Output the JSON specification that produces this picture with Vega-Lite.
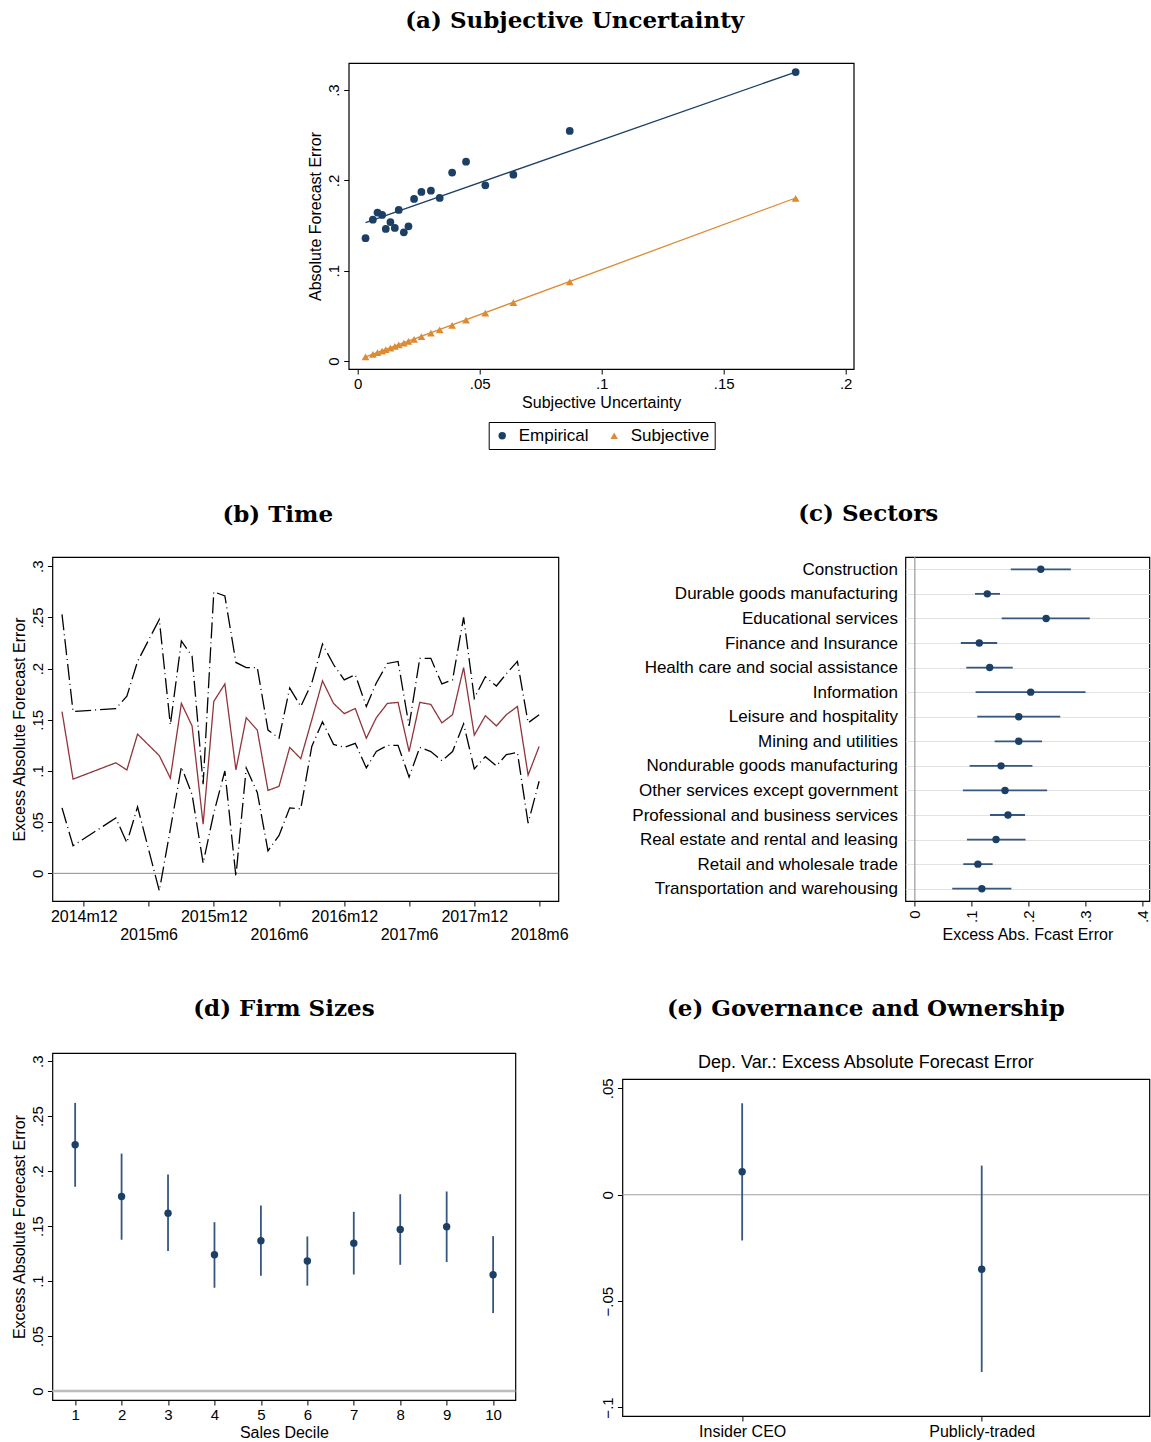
{
  "$schema": "https://vega.github.io/schema/vega-lite/v6.json",
  "background": "white",
  "padding": {"left": 10, "top": 9, "right": 0, "bottom": 0},
  "config": {
    "font": "Liberation Sans",
    "view": {"stroke": "black", "strokeWidth": 1.2},
    "axis": {
      "domain": false,
      "grid": false,
      "labelFont": "Liberation Sans",
      "labelFontSize": 15,
      "labelColor": "black",
      "titleFont": "Liberation Sans",
      "titleFontSize": 16,
      "titleFontWeight": "normal",
      "titleColor": "black",
      "tickColor": "black",
      "tickSize": 5
    },
    "title": {
      "font": "DejaVu Serif",
      "fontSize": 23,
      "fontWeight": "bold",
      "color": "black",
      "anchor": "middle"
    }
  },
  "resolve": {"scale": {"color": "independent", "shape": "independent", "strokeDash": "independent"}},
  "spacing": 51,
  "center": true,
  "vconcat": [
    {
      "title": {"text": "(a)  Subjective Uncertainty", "offset": 30, "frame": "bounds", "dx": -6},
      "width": 505,
      "height": 306,
      "encoding": {
        "x": {
          "field": "su",
          "type": "quantitative",
          "scale": {"domain": [-0.0037, 0.2033], "nice": false, "zero": false},
          "axis": {
            "title": "Subjective Uncertainty",
            "values": [0, 0.05, 0.1, 0.15, 0.2],
            "labelExpr": "datum.value == 0 ? '0' : replace(format(datum.value, '.2~f'), '0.', '.')",
            "titlePadding": 3
          }
        },
        "y": {
          "field": "afe",
          "type": "quantitative",
          "scale": {"domain": [-0.0089, 0.33], "nice": false, "zero": false},
          "axis": {
            "title": "Absolute Forecast Error",
            "values": [0, 0.1, 0.2, 0.3],
            "labelExpr": "datum.value == 0 ? '0' : replace(format(datum.value, '.2~f'), '0.', '.')",
            "labelAngle": -90,
            "labelAlign": "center",
            "labelBaseline": "bottom",
            "titlePadding": 3
          }
        }
      },
      "layer": [
        {
          "data": {
            "values": [
              {"series": "Empirical", "su": 0.0032, "afe": 0.1532},
              {"series": "Empirical", "su": 0.1795, "afe": 0.3200},
              {"series": "Subjective", "su": 0.0032, "afe": 0.0045},
              {"series": "Subjective", "su": 0.1795, "afe": 0.1805}
            ]
          },
          "transform": [{"filter": "datum.series == 'Empirical'"}],
          "mark": {"type": "line", "strokeWidth": 1.3, "color": "#1c3f66"},
          "encoding": {}
        },
        {
          "data": {
            "values": [
              {"series": "Empirical", "su": 0.0032, "afe": 0.1532},
              {"series": "Empirical", "su": 0.1795, "afe": 0.3200},
              {"series": "Subjective", "su": 0.0032, "afe": 0.0045},
              {"series": "Subjective", "su": 0.1795, "afe": 0.1805}
            ]
          },
          "transform": [{"filter": "datum.series == 'Subjective'"}],
          "mark": {"type": "line", "strokeWidth": 1.3, "color": "#dd8a33"},
          "encoding": {}
        },
        {
          "data": {
            "values": [
              {"series": "Empirical", "su": 0.0032, "afe": 0.1360},
              {"series": "Empirical", "su": 0.0062, "afe": 0.1565},
              {"series": "Empirical", "su": 0.0081, "afe": 0.1643},
              {"series": "Empirical", "su": 0.0100, "afe": 0.1617},
              {"series": "Empirical", "su": 0.0115, "afe": 0.1462},
              {"series": "Empirical", "su": 0.0134, "afe": 0.1539},
              {"series": "Empirical", "su": 0.0152, "afe": 0.1473},
              {"series": "Empirical", "su": 0.0168, "afe": 0.1672},
              {"series": "Empirical", "su": 0.0189, "afe": 0.1425},
              {"series": "Empirical", "su": 0.0208, "afe": 0.1491},
              {"series": "Empirical", "su": 0.0231, "afe": 0.1794},
              {"series": "Empirical", "su": 0.0261, "afe": 0.1872},
              {"series": "Empirical", "su": 0.0300, "afe": 0.1886},
              {"series": "Empirical", "su": 0.0336, "afe": 0.1805},
              {"series": "Empirical", "su": 0.0387, "afe": 0.2086},
              {"series": "Empirical", "su": 0.0444, "afe": 0.2207},
              {"series": "Empirical", "su": 0.0523, "afe": 0.1945},
              {"series": "Empirical", "su": 0.0638, "afe": 0.2063},
              {"series": "Empirical", "su": 0.0869, "afe": 0.2547},
              {"series": "Empirical", "su": 0.1795, "afe": 0.3200},
              {"series": "Subjective", "su": 0.0032, "afe": 0.0045},
              {"series": "Subjective", "su": 0.0062, "afe": 0.0072},
              {"series": "Subjective", "su": 0.0081, "afe": 0.0092},
              {"series": "Subjective", "su": 0.0100, "afe": 0.0110},
              {"series": "Subjective", "su": 0.0115, "afe": 0.0125},
              {"series": "Subjective", "su": 0.0134, "afe": 0.0143},
              {"series": "Subjective", "su": 0.0152, "afe": 0.0162},
              {"series": "Subjective", "su": 0.0168, "afe": 0.0178},
              {"series": "Subjective", "su": 0.0189, "afe": 0.0198},
              {"series": "Subjective", "su": 0.0208, "afe": 0.0217},
              {"series": "Subjective", "su": 0.0231, "afe": 0.0240},
              {"series": "Subjective", "su": 0.0261, "afe": 0.0270},
              {"series": "Subjective", "su": 0.0300, "afe": 0.0308},
              {"series": "Subjective", "su": 0.0336, "afe": 0.0344},
              {"series": "Subjective", "su": 0.0387, "afe": 0.0395},
              {"series": "Subjective", "su": 0.0444, "afe": 0.0452},
              {"series": "Subjective", "su": 0.0523, "afe": 0.0530},
              {"series": "Subjective", "su": 0.0638, "afe": 0.0645},
              {"series": "Subjective", "su": 0.0869, "afe": 0.0876},
              {"series": "Subjective", "su": 0.1795, "afe": 0.1800}
            ]
          },
          "mark": {"type": "point", "filled": true, "opacity": 1, "size": 60},
          "encoding": {
            "color": {
              "field": "series",
              "type": "nominal",
              "scale": {"domain": ["Empirical", "Subjective"], "range": ["#1c3f66", "#dd8a33"]},
              "legend": {
                "title": null,
                "orient": "none",
                "legendX": 140,
                "legendY": 359,
                "direction": "horizontal",
                "strokeColor": "black",
                "padding": 5,
                "labelFontSize": 17,
                "labelColor": "black",
                "symbolSize": 55,
                "columnPadding": 17,
                "labelOffset": 8
              }
            },
            "shape": {
              "field": "series",
              "type": "nominal",
              "scale": {"domain": ["Empirical", "Subjective"], "range": ["circle", "triangle-up"]},
              "legend": {
                "title": null,
                "orient": "none",
                "legendX": 140,
                "legendY": 359,
                "direction": "horizontal",
                "strokeColor": "black",
                "padding": 5,
                "labelFontSize": 17,
                "labelColor": "black",
                "symbolSize": 55,
                "columnPadding": 17,
                "labelOffset": 8
              }
            }
          }
        }
      ]
    },
    {
      "columns": 2,
      "align": "none",
      "spacing": {"row": 53, "column": 24},
      "concat": [
        {
          "title": {"text": "(b) Time", "offset": 30, "frame": "bounds", "dx": -12},
          "width": 506,
          "height": 344,
          "layer": [
            {
              "data": {"values": [{"zero": 0}]},
              "mark": {"type": "rule", "color": "#8c8c8c", "strokeWidth": 1},
              "encoding": {"y": {"datum": 0, "type": "quantitative"}}
            },
            {
              "data": {
                "values": [
                  {"month": "2014-10", "estimate": 0.158, "ci_low": 0.064, "ci_high": 0.253},
                  {"month": "2014-11", "estimate": 0.092, "ci_low": 0.027, "ci_high": 0.158},
                  {"month": "2015-03", "estimate": 0.108, "ci_low": 0.054, "ci_high": 0.161},
                  {"month": "2015-04", "estimate": 0.101, "ci_low": 0.030, "ci_high": 0.173},
                  {"month": "2015-05", "estimate": 0.136, "ci_low": 0.065, "ci_high": 0.207},
                  {"month": "2015-07", "estimate": 0.115, "ci_low": -0.017, "ci_high": 0.248},
                  {"month": "2015-08", "estimate": 0.093, "ci_low": 0.043, "ci_high": 0.145},
                  {"month": "2015-09", "estimate": 0.166, "ci_low": 0.104, "ci_high": 0.227},
                  {"month": "2015-10", "estimate": 0.144, "ci_low": 0.077, "ci_high": 0.212},
                  {"month": "2015-11", "estimate": 0.048, "ci_low": 0.010, "ci_high": 0.087},
                  {"month": "2015-12", "estimate": 0.168, "ci_low": 0.059, "ci_high": 0.275},
                  {"month": "2016-01", "estimate": 0.185, "ci_low": 0.100, "ci_high": 0.271},
                  {"month": "2016-02", "estimate": 0.101, "ci_low": -0.003, "ci_high": 0.206},
                  {"month": "2016-03", "estimate": 0.152, "ci_low": 0.103, "ci_high": 0.201},
                  {"month": "2016-04", "estimate": 0.140, "ci_low": 0.079, "ci_high": 0.201},
                  {"month": "2016-05", "estimate": 0.081, "ci_low": 0.022, "ci_high": 0.140},
                  {"month": "2016-06", "estimate": 0.085, "ci_low": 0.037, "ci_high": 0.132},
                  {"month": "2016-07", "estimate": 0.123, "ci_low": 0.064, "ci_high": 0.181},
                  {"month": "2016-08", "estimate": 0.112, "ci_low": 0.063, "ci_high": 0.163},
                  {"month": "2016-09", "estimate": 0.150, "ci_low": 0.124, "ci_high": 0.186},
                  {"month": "2016-10", "estimate": 0.188, "ci_low": 0.148, "ci_high": 0.224},
                  {"month": "2016-11", "estimate": 0.166, "ci_low": 0.126, "ci_high": 0.204},
                  {"month": "2016-12", "estimate": 0.156, "ci_low": 0.123, "ci_high": 0.189},
                  {"month": "2017-01", "estimate": 0.161, "ci_low": 0.127, "ci_high": 0.194},
                  {"month": "2017-02", "estimate": 0.132, "ci_low": 0.103, "ci_high": 0.163},
                  {"month": "2017-03", "estimate": 0.152, "ci_low": 0.119, "ci_high": 0.186},
                  {"month": "2017-04", "estimate": 0.166, "ci_low": 0.125, "ci_high": 0.205},
                  {"month": "2017-05", "estimate": 0.167, "ci_low": 0.125, "ci_high": 0.207},
                  {"month": "2017-06", "estimate": 0.119, "ci_low": 0.094, "ci_high": 0.144},
                  {"month": "2017-07", "estimate": 0.167, "ci_low": 0.123, "ci_high": 0.210},
                  {"month": "2017-08", "estimate": 0.165, "ci_low": 0.119, "ci_high": 0.210},
                  {"month": "2017-09", "estimate": 0.147, "ci_low": 0.110, "ci_high": 0.185},
                  {"month": "2017-10", "estimate": 0.155, "ci_low": 0.119, "ci_high": 0.189},
                  {"month": "2017-11", "estimate": 0.201, "ci_low": 0.146, "ci_high": 0.250},
                  {"month": "2017-12", "estimate": 0.135, "ci_low": 0.102, "ci_high": 0.171},
                  {"month": "2018-01", "estimate": 0.154, "ci_low": 0.114, "ci_high": 0.192},
                  {"month": "2018-02", "estimate": 0.144, "ci_low": 0.105, "ci_high": 0.183},
                  {"month": "2018-03", "estimate": 0.155, "ci_low": 0.116, "ci_high": 0.195},
                  {"month": "2018-04", "estimate": 0.163, "ci_low": 0.118, "ci_high": 0.207},
                  {"month": "2018-05", "estimate": 0.096, "ci_low": 0.049, "ci_high": 0.147},
                  {"month": "2018-06", "estimate": 0.124, "ci_low": 0.090, "ci_high": 0.155}
                ],
                "format": {"parse": {"month": "date:'%Y-%m'"}}
              },
              "transform": [{"fold": ["ci_high", "estimate", "ci_low"], "as": ["series", "value"]}],
              "mark": {"type": "line", "strokeWidth": 1.3},
              "encoding": {
                "x": {
                  "field": "month",
                  "type": "temporal",
                  "scale": {"domain": [{"year": 2014, "month": 9, "date": 4}, {"year": 2018, "month": 7, "date": 25}], "nice": false},
                  "axis": {
                    "title": null,
                    "values": [
                      {"year": 2014, "month": 12, "date": 1},
                      {"year": 2015, "month": 6, "date": 1},
                      {"year": 2015, "month": 12, "date": 1},
                      {"year": 2016, "month": 6, "date": 1},
                      {"year": 2016, "month": 12, "date": 1},
                      {"year": 2017, "month": 6, "date": 1},
                      {"year": 2017, "month": 12, "date": 1},
                      {"year": 2018, "month": 6, "date": 1}
                    ],
                    "labelExpr": "month(datum.value) == 5 ? ['', timeFormat(datum.value, '%Ym%-m')] : timeFormat(datum.value, '%Ym%-m')",
                    "labelFontSize": 16,
                    "labelOverlap": false,
                    "labelPadding": 2,
                    "labelBaseline": "top",
                    "labelLineHeight": 18
                  }
                },
                "y": {
                  "field": "value",
                  "type": "quantitative",
                  "scale": {"domain": [-0.027, 0.309], "nice": false, "zero": false},
                  "axis": {
                    "title": "Excess Absolute Forecast Error",
                    "values": [0, 0.05, 0.1, 0.15, 0.2, 0.25, 0.3],
                    "labelExpr": "datum.value == 0 ? '0' : replace(format(datum.value, '.2~f'), '0.', '.')",
                    "labelAngle": -90,
                    "labelAlign": "center",
                    "labelBaseline": "bottom",
                    "titlePadding": 3
                  }
                },
                "color": {
                  "field": "series",
                  "type": "nominal",
                  "scale": {"domain": ["estimate", "ci_low", "ci_high"], "range": ["#90353b", "black", "black"]},
                  "legend": null
                },
                "strokeDash": {
                  "field": "series",
                  "type": "nominal",
                  "scale": {"domain": ["estimate", "ci_low", "ci_high"], "range": [[1, 0], [16, 4, 1, 4], [16, 4, 1, 4]]},
                  "legend": null
                }
              }
            }
          ]
        },
        {
          "title": {"text": "(c) Sectors", "offset": 30, "frame": "bounds", "dx": -4},
          "width": 244,
          "height": 344,
          "data": {
            "values": [
              {"sector": "Construction", "estimate": 0.2218, "ci_low": 0.169, "ci_high": 0.2747},
              {"sector": "Durable goods manufacturing", "estimate": 0.1276, "ci_low": 0.106, "ci_high": 0.150},
              {"sector": "Educational services", "estimate": 0.2312, "ci_low": 0.153, "ci_high": 0.308},
              {"sector": "Finance and Insurance", "estimate": 0.1135, "ci_low": 0.081, "ci_high": 0.145},
              {"sector": "Health care and social assistance", "estimate": 0.1318, "ci_low": 0.0906, "ci_high": 0.1724},
              {"sector": "Information", "estimate": 0.204, "ci_low": 0.107, "ci_high": 0.3006},
              {"sector": "Leisure and hospitality", "estimate": 0.183, "ci_low": 0.110, "ci_high": 0.256},
              {"sector": "Mining and utilities", "estimate": 0.183, "ci_low": 0.1406, "ci_high": 0.224},
              {"sector": "Nondurable goods manufacturing", "estimate": 0.1518, "ci_low": 0.0965, "ci_high": 0.207},
              {"sector": "Other services except government", "estimate": 0.1588, "ci_low": 0.0847, "ci_high": 0.233},
              {"sector": "Professional and business services", "estimate": 0.164, "ci_low": 0.1324, "ci_high": 0.194},
              {"sector": "Real estate and rental and leasing", "estimate": 0.143, "ci_low": 0.0918, "ci_high": 0.195},
              {"sector": "Retail and wholesale trade", "estimate": 0.111, "ci_low": 0.0853, "ci_high": 0.137},
              {"sector": "Transportation and warehousing", "estimate": 0.118, "ci_low": 0.0659, "ci_high": 0.170}
            ]
          },
          "layer": [
            {
              "data": {"values": [{"zero": 0}]},
              "mark": {"type": "rule", "color": "#9a9a9a", "strokeWidth": 1.2},
              "encoding": {"x": {"datum": 0, "type": "quantitative"}}
            },
            {
              "mark": {"type": "rule", "color": "#36577f", "strokeWidth": 1.8},
              "encoding": {
                "x": {
                  "field": "ci_low",
                  "type": "quantitative",
                  "scale": {"domain": [-0.0166, 0.413], "nice": false, "zero": false},
                  "axis": {
                    "title": "Excess Abs. Fcast Error",
                    "values": [0, 0.1, 0.2, 0.3, 0.4],
                    "labelExpr": "datum.value == 0 ? '0' : replace(format(datum.value, '.2~f'), '0.', '.')",
                    "labelAngle": -90,
                    "labelAlign": "right",
                    "labelBaseline": "middle",
                    "labelPadding": 4,
                    "titlePadding": 4
                  }
                },
                "x2": {"field": "ci_high"},
                "y": {
                  "field": "sector",
                  "type": "nominal",
                  "sort": null,
                  "scale": {"type": "point", "padding": 0.5},
                  "axis": {
                    "title": null,
                    "ticks": false,
                    "labelPadding": 8,
                    "labelFontSize": 17,
                    "labelLimit": 400,
                    "minExtent": 311,
                    "grid": true,
                    "gridColor": "#e2e2e2"
                  }
                }
              }
            },
            {
              "mark": {"type": "point", "filled": true, "opacity": 1, "size": 55, "color": "#1c3f66"},
              "encoding": {
                "x": {"field": "estimate", "type": "quantitative", "title": "Excess Abs. Fcast Error"},
                "y": {"field": "sector", "type": "nominal", "sort": null}
              }
            }
          ]
        },
        {
          "title": {"text": "(d) Firm Sizes", "offset": 32},
          "width": 463,
          "height": 347,
          "data": {
            "values": [
              {"decile": 1, "estimate": 0.224, "ci_low": 0.1858, "ci_high": 0.2621},
              {"decile": 2, "estimate": 0.177, "ci_low": 0.1376, "ci_high": 0.216},
              {"decile": 3, "estimate": 0.1618, "ci_low": 0.1273, "ci_high": 0.197},
              {"decile": 4, "estimate": 0.1239, "ci_low": 0.0939, "ci_high": 0.1536},
              {"decile": 5, "estimate": 0.1367, "ci_low": 0.1048, "ci_high": 0.1688},
              {"decile": 6, "estimate": 0.1182, "ci_low": 0.0958, "ci_high": 0.1406},
              {"decile": 7, "estimate": 0.1345, "ci_low": 0.106, "ci_high": 0.163},
              {"decile": 8, "estimate": 0.147, "ci_low": 0.1148, "ci_high": 0.179},
              {"decile": 9, "estimate": 0.1494, "ci_low": 0.1173, "ci_high": 0.1815},
              {"decile": 10, "estimate": 0.1058, "ci_low": 0.0709, "ci_high": 0.1409}
            ]
          },
          "layer": [
            {
              "data": {"values": [{"zero": 0}]},
              "mark": {"type": "rule", "color": "#bdbdbd", "strokeWidth": 2.5},
              "encoding": {"y": {"datum": 0, "type": "quantitative"}}
            },
            {
              "mark": {"type": "rule", "color": "#36577f", "strokeWidth": 1.8},
              "encoding": {
                "x": {
                  "field": "decile",
                  "type": "quantitative",
                  "scale": {"domain": [0.51, 10.48], "nice": false, "zero": false},
                  "axis": {
                    "title": "Sales Decile",
                    "values": [1, 2, 3, 4, 5, 6, 7, 8, 9, 10],
                    "labelFontSize": 15,
                    "titlePadding": 2
                  }
                },
                "y": {
                  "field": "ci_low",
                  "type": "quantitative",
                  "scale": {"domain": [-0.0082, 0.3075], "nice": false, "zero": false},
                  "axis": {
                    "title": "Excess Absolute Forecast Error",
                    "values": [0, 0.05, 0.1, 0.15, 0.2, 0.25, 0.3],
                    "labelExpr": "datum.value == 0 ? '0' : replace(format(datum.value, '.2~f'), '0.', '.')",
                    "labelAngle": -90,
                    "labelAlign": "center",
                    "labelBaseline": "bottom",
                    "titlePadding": 3
                  }
                },
                "y2": {"field": "ci_high"}
              }
            },
            {
              "mark": {"type": "point", "filled": true, "opacity": 1, "size": 55, "color": "#1c3f66"},
              "encoding": {
                "x": {"field": "decile", "type": "quantitative", "title": "Sales Decile"},
                "y": {"field": "estimate", "type": "quantitative", "title": "Excess Absolute Forecast Error"}
              }
            }
          ]
        },
        {
          "title": {
            "text": "(e) Governance and Ownership",
            "subtitle": "Dep. Var.: Excess Absolute Forecast Error",
            "subtitleFont": "Liberation Sans",
            "subtitleFontSize": 18,
            "subtitleColor": "black",
            "subtitlePadding": 33,
            "offset": 6,
            "dx": -20
          },
          "width": 527,
          "height": 337,
          "data": {
            "values": [
              {"group": "Insider CEO", "position": 1, "estimate": 0.0108, "ci_low": -0.0215, "ci_high": 0.043},
              {"group": "Publicly-traded", "position": 2, "estimate": -0.035, "ci_low": -0.0833, "ci_high": 0.0137}
            ]
          },
          "layer": [
            {
              "data": {"values": [{"zero": 0}]},
              "mark": {"type": "rule", "color": "#a0a0a0", "strokeWidth": 1.2},
              "encoding": {"y": {"datum": 0, "type": "quantitative"}}
            },
            {
              "mark": {"type": "rule", "color": "#36577f", "strokeWidth": 1.8},
              "encoding": {
                "x": {
                  "field": "position",
                  "type": "quantitative",
                  "scale": {"domain": [0.5, 2.7], "nice": false, "zero": false},
                  "axis": {
                    "title": null,
                    "values": [1, 2],
                    "labelExpr": "datum.value == 1 ? 'Insider CEO' : 'Publicly-traded'",
                    "labelFontSize": 16
                  }
                },
                "y": {
                  "field": "ci_low",
                  "type": "quantitative",
                  "scale": {"domain": [-0.104, 0.0544], "nice": false, "zero": false},
                  "axis": {
                    "title": null,
                    "values": [-0.1, -0.05, 0, 0.05],
                    "labelExpr": "datum.value == 0 ? '0' : replace(format(datum.value, '.2~f'), '0.', '.')",
                    "labelAngle": -90,
                    "labelAlign": "center",
                    "labelBaseline": "bottom",
                    "minExtent": 28
                  }
                },
                "y2": {"field": "ci_high"}
              }
            },
            {
              "mark": {"type": "point", "filled": true, "opacity": 1, "size": 55, "color": "#1c3f66"},
              "encoding": {
                "x": {"field": "position", "type": "quantitative", "title": null},
                "y": {"field": "estimate", "type": "quantitative", "title": null}
              }
            }
          ]
        }
      ]
    }
  ]
}
